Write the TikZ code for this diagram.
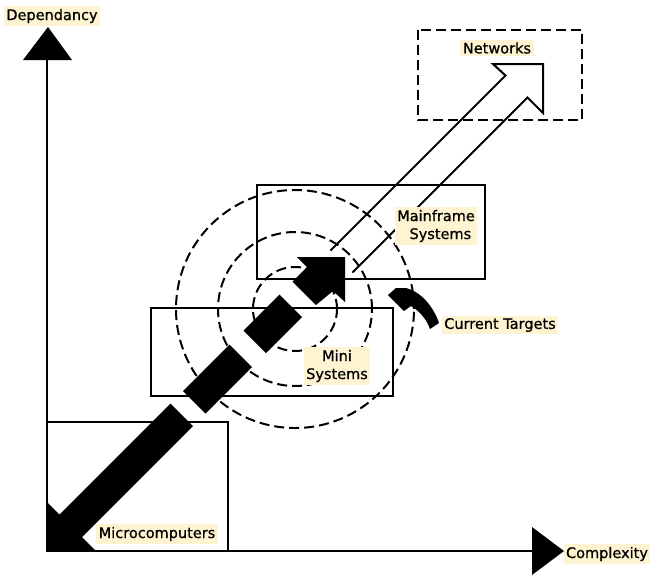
\documentclass[tikz,border=0pt]{standalone}
\usepackage{fontspec}
\setmainfont{DejaVu Sans}[FakeBold=0.8]
\definecolor{hl}{HTML}{FFF4D2}
\begin{document}
\begin{tikzpicture}[x=1pt,y=-1pt,
  lbl/.style={fill=hl, inner sep=2.5pt, font=\fontsize{14.5}{18}\selectfont},
  boxline/.style={line width=1.2pt},
  dsh/.style={line width=2pt, dash pattern=on 10pt off 5pt},
  axisline/.style={line width=2pt},
  hollow/.style={line width=2pt, line join=miter}]
\useasboundingbox (0,0) rectangle (652,576);
% boxes
\draw[boxline] (47,422) rectangle (228,551);
\draw[boxline] (151,308) rectangle (393,396);
\draw[boxline] (257,185) rectangle (485,279);
\draw[dsh] (418,30) rectangle (582,120);
% dashed circles
\coordinate (ctr) at (295,309);
\draw[dsh] (ctr) circle[radius=42pt];
\draw[dsh] (ctr) circle[radius=77pt];
\draw[dsh] (ctr) circle[radius=119pt];
% axes
\coordinate (origin) at (47,551);
\coordinate (ytip) at (48,27);
\coordinate (xtip) at (564,551);
\draw[axisline] (origin) -- (47,60);
\draw[axisline] (origin) -- (532,551);
\fill (ytip) -- (23,60) -- (72,60) -- cycle;
\fill (xtip) -- (532,527) -- (532,575) -- cycle;
% black bar
\fill (46.25,550.25) -- (46.5,501.5) -- (59.5,514.5) -- (170.5,403.5)
  -- (193,426) -- (82,537) -- (95,550) -- cycle;
\fill (183,391) -- (229.5,344.5) -- (252,367) -- (205.5,413.5) -- cycle;
\fill (243.5,330.5) -- (279.5,294.5) -- (302,317) -- (266,353) -- cycle;
\fill (292.5,281.5) -- (307,267) -- (297,257) -- (345,257)
  -- (345,302) -- (333,291) -- (316,305) -- cycle;
% hollow arrow
\draw[hollow] (330.5,250.5) -- (505.5,75.5) -- (493,64) -- (543,64)
  -- (543,113) -- (527.5,97.5) -- (352.5,272.5);
% current targets arrow
\fill (388,295) -- (396,288) -- (406,288)
  .. controls (422,292) and (434,308) .. (439,323)
  -- (430,329) .. controls (426,318) and (419,311) .. (411,306)
  -- (404,311) -- cycle;
% labels
\node[lbl] (dep) at (52,16) {Dependancy};
\node[lbl] (net) at (497,48) {Networks};
\node[lbl, align=center] (main) at (436,226) {Mainframe\\\hspace*{0.6em}Systems};
\node[lbl, align=center] (mini) at (337,366) {Mini\\Systems};
\node[lbl] (cur) at (500,325) {Current Targets};
\node[lbl] (micro) at (157,534) {Microcomputers};
\node[lbl] (cpx) at (607,554) {Complexity};
\end{tikzpicture}
\end{document}
